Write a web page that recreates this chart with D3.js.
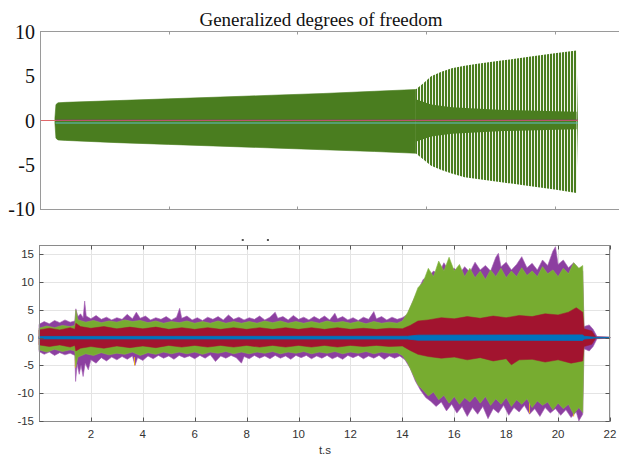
<!DOCTYPE html>
<html>
<head>
<meta charset="utf-8">
<script src="https://cdn.jsdelivr.net/npm/d3@7"></script>
<style>
  body { margin: 0; background: #fff; }
  svg { display: block; }
</style>
</head>
<body>
<div id="chart"></div>
<script>
// ---- top panel data (envelope of the oscillation) ----
const topTicksX = [5, 10, 15, 20];
const topTicksY = [10, 5, 0, -5, -10];
const topUpper = [[0.58,0.3],[0.62,1.8],[0.7,2.0],[1.0,2.05],[3,2.25],[5,2.45],[7,2.65],[9,2.85],[11,3.05],[13,3.3],[14.6,3.5],[14.9,4.2],[15.2,5.0],[15.6,5.5],[16,5.9],[16.5,6.2],[17,6.4],[18,6.8],[19,7.2],[20,7.6],[20.85,7.9],[20.9,0.3]];
const topLower = [[0.58,-0.3],[0.62,-2.0],[0.7,-2.2],[1.0,-2.25],[3,-2.5],[5,-2.7],[7,-2.9],[9,-3.1],[11,-3.3],[13,-3.5],[14.6,-3.7],[14.9,-4.4],[15.2,-5.1],[15.6,-5.6],[16,-6.0],[16.5,-6.4],[17,-6.6],[18,-7.0],[19,-7.4],[20,-7.8],[20.85,-8.2],[20.9,-0.3]];
const topInner = [[14.6,2.4],[15.2,1.8],[16,1.5],[18,1.2],[20.85,1.0]];
const spikeStart = 14.6;

// ---- bottom panel data ----
const botTicksX = [2, 4, 6, 8, 10, 12, 14, 16, 18, 20, 22];
const botTicksY = [15, 10, 5, 0, -5, -10, -15];
const purpleUpper = [[0,2.4],[0.2,2.9],[0.4,2.5],[0.6,3.1],[0.8,2.7],[1.0,3.2],[1.2,2.8],[1.38,3.0],[1.42,5.2],[1.5,3.8],[1.6,4.3],[1.7,3.6],[1.76,6.6],[1.82,3.9],[2.0,3.4],[2.2,4.0],[2.4,3.3],[2.6,3.7],[2.8,3.2],[3.0,3.6],[3.2,3.3],[3.4,4.2],[3.6,3.4],[3.75,4.6],[3.9,3.5],[4.1,3.9],[4.3,3.2],[4.5,3.6],[4.7,3.3],[4.9,3.8],[5.1,3.2],[5.3,3.7],[5.42,5.3],[5.5,3.5],[5.7,3.9],[5.9,3.2],[6.1,3.6],[6.3,3.1],[6.5,3.7],[6.7,3.3],[6.9,3.8],[7.1,3.2],[7.3,4.1],[7.5,3.3],[7.7,3.7],[7.9,3.2],[8.1,3.6],[8.3,3.3],[8.5,3.9],[8.7,3.2],[8.9,3.7],[9.1,4.6],[9.2,3.5],[9.4,3.8],[9.6,3.2],[9.8,4.0],[10.0,3.3],[10.2,3.7],[10.4,3.2],[10.6,3.8],[10.8,3.3],[11.0,3.9],[11.2,3.2],[11.4,4.4],[11.5,3.4],[11.7,3.8],[11.9,3.2],[12.1,3.6],[12.3,3.1],[12.5,3.7],[12.7,3.3],[12.9,4.7],[13.0,3.4],[13.2,3.8],[13.4,3.2],[13.6,3.7],[13.8,3.3],[14.0,3.6],[14.2,4.2],[14.4,6.5],[14.6,8.5],[14.8,10.5],[15.0,11.0],[15.2,12.0],[15.4,11.5],[15.6,13.5],[15.8,12.0],[16.0,12.5],[16.2,11.5],[16.4,12.8],[16.6,11.8],[16.8,13.6],[17.0,12.2],[17.2,13.0],[17.4,12.0],[17.6,14.5],[17.7,15.2],[17.8,12.8],[18.0,13.6],[18.2,12.2],[18.4,13.2],[18.6,14.6],[18.8,12.6],[19.0,13.4],[19.2,12.2],[19.4,14.0],[19.6,13.0],[19.8,15.6],[19.9,16.4],[20.0,13.2],[20.2,14.0],[20.4,12.6],[20.6,13.5],[20.8,12.4],[20.95,12.0],[21.0,2.0],[21.2,2.3],[21.35,1.5],[21.5,0.2],[22,0.1]];
const purpleLower = [[0,-2.5],[0.2,-3.0],[0.4,-2.6],[0.6,-3.2],[0.8,-2.7],[1.0,-3.1],[1.2,-2.8],[1.38,-3.2],[1.41,-7.9],[1.47,-4.8],[1.55,-6.6],[1.62,-5.0],[1.7,-7.0],[1.78,-4.6],[1.9,-5.8],[2.0,-4.0],[2.2,-4.6],[2.4,-3.6],[2.6,-4.2],[2.8,-3.5],[3.0,-4.0],[3.2,-3.4],[3.4,-3.9],[3.6,-3.3],[3.7,-5.0],[3.8,-3.6],[4.0,-4.1],[4.2,-3.3],[4.4,-3.8],[4.6,-3.2],[4.8,-3.7],[5.0,-3.3],[5.2,-3.9],[5.4,-3.2],[5.6,-3.6],[5.8,-3.3],[6.0,-3.8],[6.2,-3.2],[6.4,-3.7],[6.6,-3.1],[6.8,-4.3],[7.0,-3.3],[7.2,-3.7],[7.4,-3.2],[7.6,-3.6],[7.8,-4.6],[7.9,-3.4],[8.1,-3.8],[8.3,-3.2],[8.5,-3.7],[8.7,-3.3],[8.9,-3.8],[9.1,-3.2],[9.3,-3.7],[9.5,-3.3],[9.7,-3.9],[9.9,-3.2],[10.1,-3.6],[10.3,-3.2],[10.5,-3.8],[10.7,-3.3],[10.9,-3.7],[11.1,-3.2],[11.3,-3.8],[11.5,-3.4],[11.7,-3.9],[11.9,-3.2],[12.1,-3.6],[12.3,-3.2],[12.5,-3.8],[12.7,-3.3],[12.9,-3.7],[13.1,-3.2],[13.3,-3.9],[13.5,-3.3],[13.7,-3.7],[13.9,-3.3],[14.1,-4.0],[14.3,-5.5],[14.5,-7.8],[14.7,-9.5],[14.9,-10.8],[15.1,-11.5],[15.3,-12.4],[15.5,-11.6],[15.7,-13.2],[15.9,-12.0],[16.1,-13.6],[16.3,-12.4],[16.5,-14.2],[16.7,-12.6],[16.9,-13.8],[17.1,-12.4],[17.3,-14.6],[17.5,-12.8],[17.7,-13.6],[17.9,-12.2],[18.1,-14.0],[18.3,-12.6],[18.5,-13.4],[18.7,-12.2],[18.9,-13.8],[19.1,-12.8],[19.3,-14.2],[19.5,-12.6],[19.7,-13.6],[19.9,-12.8],[20.1,-14.0],[20.3,-13.0],[20.5,-14.4],[20.7,-13.4],[20.8,-15.0],[20.95,-13.8],[21.0,-2.0],[21.2,-2.4],[21.35,-1.6],[21.5,-0.2],[22,-0.1]];
const greenUpper = [[0,1.7],[0.3,2.1],[0.6,1.8],[0.9,2.2],[1.2,2.0],[1.38,2.2],[1.42,5.0],[1.5,3.2],[1.8,2.8],[2.1,3.1],[2.4,2.7],[2.7,3.0],[3.0,2.8],[3.3,3.2],[3.6,2.9],[3.9,3.1],[4.2,2.7],[4.5,3.0],[4.8,2.6],[5.1,2.9],[5.4,2.7],[5.7,3.0],[6.0,2.6],[6.3,2.9],[6.6,2.6],[6.9,3.0],[7.2,2.6],[7.5,2.9],[7.8,2.6],[8.1,2.9],[8.4,2.6],[8.7,3.0],[9.0,2.7],[9.3,3.0],[9.6,2.6],[9.9,2.9],[10.2,2.6],[10.5,2.9],[10.8,2.6],[11.1,3.0],[11.4,2.7],[11.7,2.9],[12.0,2.6],[12.3,2.9],[12.6,2.5],[12.9,2.9],[13.2,2.6],[13.5,2.8],[13.8,2.6],[14.0,3.0],[14.2,4.5],[14.4,6.5],[14.6,9.0],[14.8,10.0],[15.0,12.5],[15.2,11.0],[15.4,13.8],[15.6,12.0],[15.8,14.5],[16.0,12.0],[16.2,13.2],[16.4,11.0],[16.6,12.5],[16.8,10.8],[17.0,12.0],[17.2,10.5],[17.4,12.2],[17.6,11.0],[17.8,12.5],[18.0,10.8],[18.2,12.0],[18.4,11.0],[18.6,12.6],[18.8,11.2],[19.0,12.0],[19.2,11.0],[19.4,12.8],[19.6,11.5],[19.8,12.2],[20.0,11.0],[20.2,12.5],[20.4,11.5],[20.6,13.5],[20.8,12.5],[20.95,13.0],[21.0,0.6],[21.3,0.3],[21.5,0.05],[22,0.05]];
const greenLower = [[0,-2.2],[0.3,-2.6],[0.6,-2.1],[0.9,-2.5],[1.2,-2.2],[1.38,-2.4],[1.42,-5.2],[1.5,-3.5],[1.8,-2.9],[2.1,-3.2],[2.4,-2.7],[2.7,-3.1],[3.0,-2.8],[3.3,-3.0],[3.6,-2.6],[3.9,-3.2],[4.2,-2.7],[4.5,-3.0],[4.8,-2.6],[5.1,-2.9],[5.4,-2.6],[5.7,-2.9],[6.0,-2.6],[6.3,-3.0],[6.6,-2.6],[6.9,-2.8],[7.2,-2.5],[7.5,-2.9],[7.8,-2.6],[8.1,-2.9],[8.4,-2.6],[8.7,-2.8],[9.0,-2.5],[9.3,-2.9],[9.6,-2.6],[9.9,-2.8],[10.2,-2.5],[10.5,-2.9],[10.8,-2.6],[11.1,-2.8],[11.4,-2.5],[11.7,-2.9],[12.0,-2.6],[12.3,-2.8],[12.6,-2.5],[12.9,-2.9],[13.2,-2.6],[13.5,-2.8],[13.8,-2.7],[14.0,-3.2],[14.2,-4.5],[14.4,-6.5],[14.6,-8.5],[14.8,-9.5],[15.0,-10.5],[15.2,-9.8],[15.4,-11.2],[15.6,-10.4],[15.8,-11.8],[16.0,-10.6],[16.2,-12.0],[16.4,-10.8],[16.6,-11.6],[16.8,-10.5],[17.0,-11.8],[17.2,-10.6],[17.4,-12.2],[17.6,-11.0],[17.8,-12.0],[18.0,-10.8],[18.2,-12.4],[18.4,-11.2],[18.6,-12.0],[18.8,-11.0],[19.0,-12.6],[19.2,-11.4],[19.4,-12.2],[19.6,-11.6],[19.8,-13.0],[20.0,-11.8],[20.2,-12.8],[20.4,-12.0],[20.6,-13.8],[20.8,-12.6],[20.95,-13.5],[21.0,-0.6],[21.3,-0.3],[21.5,-0.05],[22,-0.05]];
const redUpper = [[0,1.4],[0.4,1.7],[0.8,1.4],[1.2,1.8],[1.38,1.5],[1.42,2.6],[1.6,2.0],[2.0,1.7],[2.5,2.0],[3.0,1.6],[3.5,1.9],[4.0,1.6],[4.5,1.9],[5.0,1.5],[5.5,1.8],[6.0,1.5],[6.5,1.8],[7.0,1.5],[7.5,1.8],[8.0,1.5],[8.5,1.8],[9.0,1.5],[9.5,1.8],[10.0,1.5],[10.5,1.8],[11.0,1.5],[11.5,1.8],[12.0,1.5],[12.5,1.7],[13.0,1.5],[13.5,1.7],[14.0,1.6],[14.3,2.2],[14.6,3.0],[15.0,3.2],[15.5,3.6],[16.0,3.4],[16.5,3.8],[17.0,3.5],[17.5,3.9],[18.0,3.6],[18.5,4.0],[19.0,3.8],[19.5,4.3],[20.0,4.1],[20.4,4.6],[20.7,5.4],[20.95,4.6],[21.0,1.6],[21.3,1.2],[21.45,0.1],[22,0.05]];
const redLower = [[0,-1.3],[0.4,-1.6],[0.8,-1.3],[1.2,-1.7],[1.38,-1.4],[1.42,-2.4],[1.6,-1.9],[2.0,-1.6],[2.5,-1.9],[3.0,-1.5],[3.5,-1.8],[4.0,-1.5],[4.5,-1.8],[5.0,-1.4],[5.5,-1.7],[6.0,-1.4],[6.5,-1.7],[7.0,-1.4],[7.5,-1.7],[8.0,-1.4],[8.5,-1.7],[9.0,-1.4],[9.5,-1.7],[10.0,-1.4],[10.5,-1.7],[11.0,-1.4],[11.5,-1.7],[12.0,-1.4],[12.5,-1.6],[13.0,-1.4],[13.5,-1.6],[14.0,-1.5],[14.3,-2.3],[14.6,-3.0],[15.0,-3.4],[15.5,-3.7],[16.0,-3.5],[16.5,-4.0],[17.0,-3.6],[17.5,-4.2],[18.0,-3.8],[18.2,-4.9],[18.5,-4.0],[19.0,-3.9],[19.5,-4.4],[20.0,-4.0],[20.5,-4.6],[20.95,-4.2],[21.0,-1.6],[21.3,-1.2],[21.45,-0.1],[22,-0.05]];
const blueUpper = [[0,0.22],[14.2,0.25],[14.6,0.45],[20.95,0.5],[21.0,0.25],[21.45,0.05],[22,0.03]];
const blueLower = [[0,-0.22],[14.2,-0.25],[14.6,-0.45],[20.95,-0.5],[21.0,-0.25],[21.45,-0.05],[22,-0.03]];
const orangeSpikes = [[1.4,-5.4],[3.68,-5.0],[20.6,-14.2],[18.9,-13.6]];
// remnants of a cropped caption above the lower panel
const captionDots = [7.85, 8.82];

const W = 619, H = 455;
const svg = d3.select("#chart").append("svg").attr("width", W).attr("height", H);

const frameCol = "#9a9a9a";

// ================= top panel =================
const xT = d3.scaleLinear().domain([0, 22.5]).range([40, 619]);
const yT = d3.scaleLinear().domain([-10, 10]).range([209, 32]);

const defs = svg.append("defs");
const pat = defs.append("pattern")
    .attr("id", "stripes")
    .attr("patternUnits", "userSpaceOnUse")
    .attr("x", 1)
    .attr("width", 3).attr("height", 10);
pat.append("rect").attr("width", 3).attr("height", 10).attr("fill", "#f1f4ee");
pat.append("rect").attr("width", 2).attr("height", 10).attr("fill", "#4a7d1f");

const envArea = (up, lo, x, y) =>
    d3.line().x(d => x(d[0])).y(d => y(d[1]))(up.concat(lo.slice().reverse())) + "Z";

const cut = (arr, a, b) => arr.filter(d => d[0] >= a && d[0] <= b);
// spiky part
svg.append("path")
    .attr("d", envArea(cut(topUpper, spikeStart, 30), cut(topLower, spikeStart, 30), xT, yT))
    .attr("fill", "url(#stripes)");
// solid part
svg.append("path")
    .attr("d", envArea(cut(topUpper, 0, spikeStart), cut(topLower, 0, spikeStart), xT, yT))
    .attr("fill", "#4a7d1f").attr("stroke", "#4a7d1f").attr("stroke-width", 0.6);
// dense core of the spiky part
svg.append("path")
    .attr("d", envArea(topInner, topInner.map(d => [d[0], -d[1]]), xT, yT))
    .attr("fill", "#4a7d1f");

// centre lines
svg.append("line")
    .attr("x1", xT(0)).attr("x2", xT(20.9))
    .attr("y1", yT(0)).attr("y2", yT(0))
    .attr("stroke", "#e0686a").attr("stroke-width", 1.2);
svg.append("line")
    .attr("x1", xT(0.6)).attr("x2", xT(20.9))
    .attr("y1", yT(-0.28)).attr("y2", yT(-0.28))
    .attr("stroke", "#5fbfc4").attr("stroke-width", 1.2);
svg.append("line")
    .attr("x1", xT(0.6)).attr("x2", xT(20.9))
    .attr("y1", yT(0.05)).attr("y2", yT(0.05))
    .attr("stroke", "#8a3b6e").attr("stroke-width", 0.8);

// frame (left, top, bottom)
svg.append("line").attr("x1", 40.5).attr("x2", 40.5).attr("y1", 31.5).attr("y2", 209.5)
    .attr("stroke", frameCol);
svg.append("line").attr("x1", 40).attr("x2", 619).attr("y1", 31.5).attr("y2", 31.5)
    .attr("stroke", frameCol);
svg.append("line").attr("x1", 40).attr("x2", 619).attr("y1", 209.5).attr("y2", 209.5)
    .attr("stroke", frameCol);
topTicksX.forEach(t => {
    svg.append("line").attr("x1", Math.round(xT(t)) + 0.5).attr("x2", Math.round(xT(t)) + 0.5)
        .attr("y1", 31.5).attr("y2", 34.5).attr("stroke", frameCol);
    svg.append("line").attr("x1", Math.round(xT(t)) + 0.5).attr("x2", Math.round(xT(t)) + 0.5)
        .attr("y1", 206.5).attr("y2", 209.5).attr("stroke", frameCol);
});

svg.append("g").selectAll("text")
    .data(topTicksY)
    .enter()
    .append("text")
    .attr("x", 35)
    .attr("y", d => yT(d))
    .attr("dy", "0.35em")
    .attr("text-anchor", "end")
    .style("font-family", "'Liberation Serif', 'Times New Roman', serif")
    .style("font-size", "20px")
    .style("fill", "#111")
    .text(d => d);

svg.append("text")
    .attr("x", 321)
    .attr("y", 26)
    .attr("text-anchor", "middle")
    .style("font-family", "'Liberation Serif', 'Times New Roman', serif")
    .style("font-size", "19px")
    .style("fill", "#111")
    .text("Generalized degrees of freedom");

// ================= bottom panel =================
const xB = d3.scaleLinear().domain([0, 22]).range([39, 610]);
const yB = d3.scaleLinear().domain([-15.2, 16.7]).range([422, 245]);

const gB = svg.append("g");

gB.selectAll(".dot").data(captionDots).enter().append("rect")
    .attr("x", d => xB(d) - 1).attr("y", 239).attr("width", 2).attr("height", 2)
    .attr("fill", "#555");

// grid
gB.selectAll(".gx").data(botTicksX).enter().append("line")
    .attr("x1", d => Math.round(xB(d)) + 0.5).attr("x2", d => Math.round(xB(d)) + 0.5)
    .attr("y1", 245).attr("y2", 422)
    .attr("stroke", "#e4e4e4");
gB.selectAll(".gy").data(botTicksY).enter().append("line")
    .attr("x1", 39).attr("x2", 610)
    .attr("y1", d => Math.round(yB(d)) + 0.5).attr("y2", d => Math.round(yB(d)) + 0.5)
    .attr("stroke", "#e4e4e4");

// zero trace
gB.append("line")
    .attr("x1", xB(0)).attr("x2", xB(22))
    .attr("y1", yB(0)).attr("y2", yB(0))
    .attr("stroke", "#3b6e4a").attr("stroke-width", 1.2);

gB.append("path").attr("d", envArea(purpleUpper, purpleLower, xB, yB))
    .attr("fill", "#8c3fa0").attr("stroke", "#a460b4").attr("stroke-width", 0.6);
gB.selectAll(".orange").data(orangeSpikes).enter().append("line")
    .attr("x1", d => xB(d[0])).attr("x2", d => xB(d[0]))
    .attr("y1", d => yB(d[1] * 0.7)).attr("y2", d => yB(d[1]))
    .attr("stroke", "#edb120").attr("stroke-width", 1);
gB.append("path").attr("d", envArea(greenUpper, greenLower, xB, yB))
    .attr("fill", "#77ac30").attr("stroke", "#86b845").attr("stroke-width", 0.6);
gB.append("path").attr("d", envArea(redUpper, redLower, xB, yB))
    .attr("fill", "#a2142f").attr("stroke", "#a2142f").attr("stroke-width", 0.5);
gB.append("path").attr("d", envArea(blueUpper, blueLower, xB, yB))
    .attr("fill", "#0072bd").attr("stroke", "#0072bd").attr("stroke-width", 0.8);

// frame + ticks
gB.append("rect")
    .attr("x", 39.5).attr("y", 245.5).attr("width", 570).attr("height", 176)
    .attr("fill", "none").attr("stroke", "#8a8a8a");
botTicksX.forEach(t => {
    const px = Math.round(xB(t)) + 0.5;
    gB.append("line").attr("x1", px).attr("x2", px).attr("y1", 421.5).attr("y2", 417.5).attr("stroke", "#555");
    gB.append("line").attr("x1", px).attr("x2", px).attr("y1", 245.5).attr("y2", 249.5).attr("stroke", "#555");
});
botTicksY.forEach(t => {
    const py = Math.round(yB(t)) + 0.5;
    gB.append("line").attr("x1", 39.5).attr("x2", 43.5).attr("y1", py).attr("y2", py).attr("stroke", "#555");
    gB.append("line").attr("x1", 609.5).attr("x2", 605.5).attr("y1", py).attr("y2", py).attr("stroke", "#555");
});

const sans = "'Liberation Sans', Arial, Helvetica, sans-serif";
gB.selectAll(".ly").data(botTicksY).enter().append("text")
    .attr("x", 34).attr("y", d => yB(d)).attr("dy", "0.35em")
    .attr("text-anchor", "end")
    .style("font-family", sans).style("font-size", "11.5px").style("fill", "#333")
    .text(d => d);
gB.selectAll(".lx").data(botTicksX).enter().append("text")
    .attr("x", d => xB(d)).attr("y", 434).attr("dy", "0.35em")
    .attr("text-anchor", "middle")
    .style("font-family", sans).style("font-size", "11.5px").style("fill", "#333")
    .text(d => d);
gB.append("text")
    .attr("x", 325).attr("y", 450).attr("dy", "0.35em")
    .attr("text-anchor", "middle")
    .style("font-family", sans).style("font-size", "11.5px").style("fill", "#333")
    .text("t.s");
</script>
</body>
</html>
